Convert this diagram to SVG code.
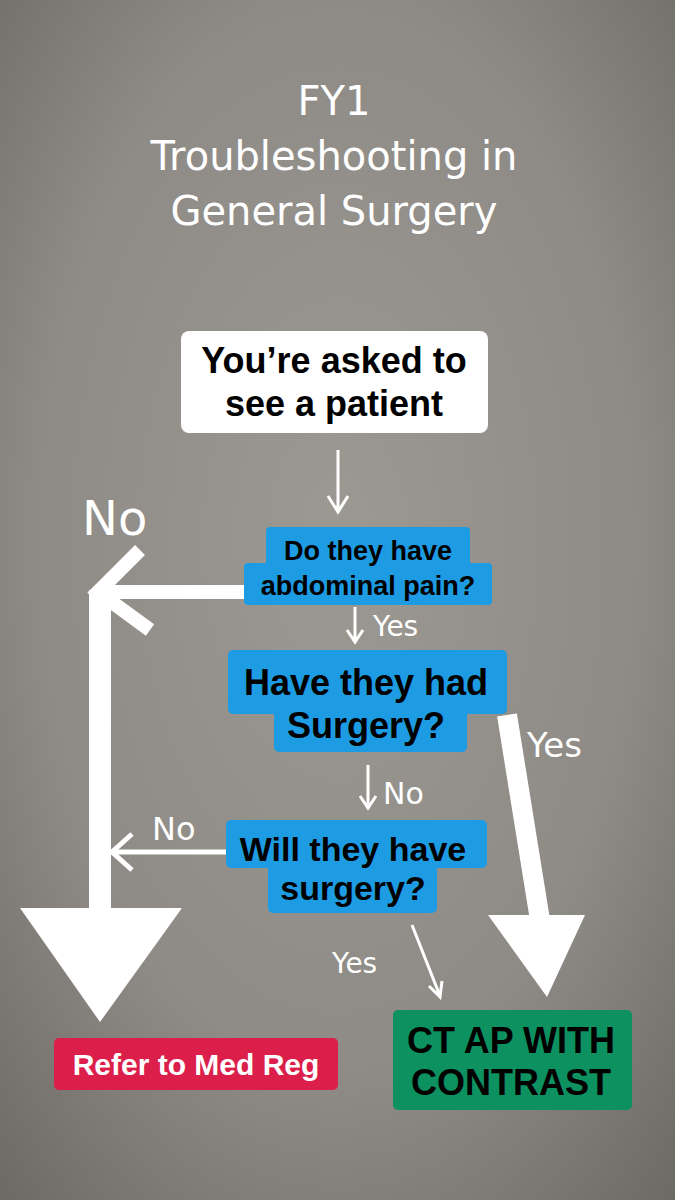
<svg xmlns="http://www.w3.org/2000/svg" width="675" height="1200" viewBox="0 0 675 1200">
<defs>
<radialGradient id="bg" cx="0.5" cy="0.45" r="0.75">
<stop offset="0" stop-color="#9c9993"/><stop offset="0.6" stop-color="#8e8a85"/><stop offset="1" stop-color="#6c6965"/>
</radialGradient>
<style>
.t{font-family:"DejaVu Sans",sans-serif;fill:#fff;text-anchor:middle}
.h{font-family:"DejaVu Sans",sans-serif;fill:#fff}
.b{font-family:"Liberation Sans",Arial,sans-serif;font-weight:bold;fill:#000;text-anchor:middle}
.blue{fill:#1d9be3}
.ln{stroke:#fff;fill:none;stroke-linecap:butt}
</style>
</defs>
<rect width="675" height="1200" fill="url(#bg)"/>
<g id="title">
<text class="t" x="334" y="115" font-size="40">FY1</text>
<text class="t" x="334" y="170" font-size="40">Troubleshooting in</text>
<text class="t" x="334" y="225" font-size="40">General Surgery</text>
</g>
<g id="connectors">
<path class="ln" stroke-width="3" d="M338 450V510M328 496L338 512L348 496"/>
<path class="ln" stroke-width="14" d="M244 592H98M140 550L98 592L150 630"/>
<path class="ln" stroke-width="22" d="M100 590V912"/>
<polygon fill="#fff" points="20,908 182,908 100,1022"/>
<text class="h" x="82" y="535" font-size="48">No</text>
<path class="ln" stroke-width="3" d="M355 607V640M347 630L355 642L363 630"/>
<text class="h" x="373" y="636" font-size="28">Yes</text>
<path class="ln" stroke-width="20" d="M507 715L540 920"/>
<polygon fill="#fff" points="488,915 585,915 547,997"/>
<text class="h" x="527" y="757" font-size="34">Yes</text>
<path class="ln" stroke-width="3" d="M368 765V806M360 796L368 808L376 796"/>
<text class="h" x="383" y="804" font-size="30">No</text>
<path class="ln" stroke-width="5" d="M226 852H112M132 834L112 852L132 870"/>
<text class="h" x="152" y="840" font-size="32">No</text>
<path class="ln" stroke-width="3" d="M412 925L440 996M429 986L440 997L442 981"/>
<text class="h" x="332" y="973" font-size="28">Yes</text>
</g>
<g id="n1">
<rect x="181" y="331" width="307" height="102" rx="8" fill="#fff"/>
<text class="b" x="334" y="373" font-size="36">You’re asked to</text>
<text class="b" x="334" y="416" font-size="36">see a patient</text>
</g>
<g id="n2">
<rect class="blue" x="266" y="527" width="204" height="42" rx="4"/>
<rect class="blue" x="244" y="563" width="248" height="42" rx="4"/>
<text class="b" x="368" y="560" font-size="27">Do they have</text>
<text class="b" x="368" y="595" font-size="27">abdominal pain?</text>
</g>
<g id="n3">
<rect class="blue" x="228" y="650" width="279" height="64" rx="5"/>
<rect class="blue" x="274" y="710" width="193" height="42" rx="5"/>
<text class="b" x="366" y="695" font-size="36">Have they had</text>
<text class="b" x="366" y="738" font-size="36">Surgery?</text>
</g>
<g id="n4">
<rect class="blue" x="226" y="820" width="261" height="48" rx="5"/>
<rect class="blue" x="268" y="864" width="169" height="49" rx="5"/>
<text class="b" x="353" y="861" font-size="34">Will they have</text>
<text class="b" x="353" y="900" font-size="34">surgery?</text>
</g>
<g id="n5">
<rect x="54" y="1038" width="284" height="52" rx="5" fill="#dc1f4a"/>
<text class="b" x="196" y="1075" font-size="30" style="fill:#fff">Refer to Med Reg</text>
</g>
<g id="n6">
<rect x="393" y="1010" width="239" height="100" rx="5" fill="#0d9160"/>
<text class="b" x="511" y="1053" font-size="36">CT AP WITH</text>
<text class="b" x="511" y="1095" font-size="36">CONTRAST</text>
</g>
</svg>
